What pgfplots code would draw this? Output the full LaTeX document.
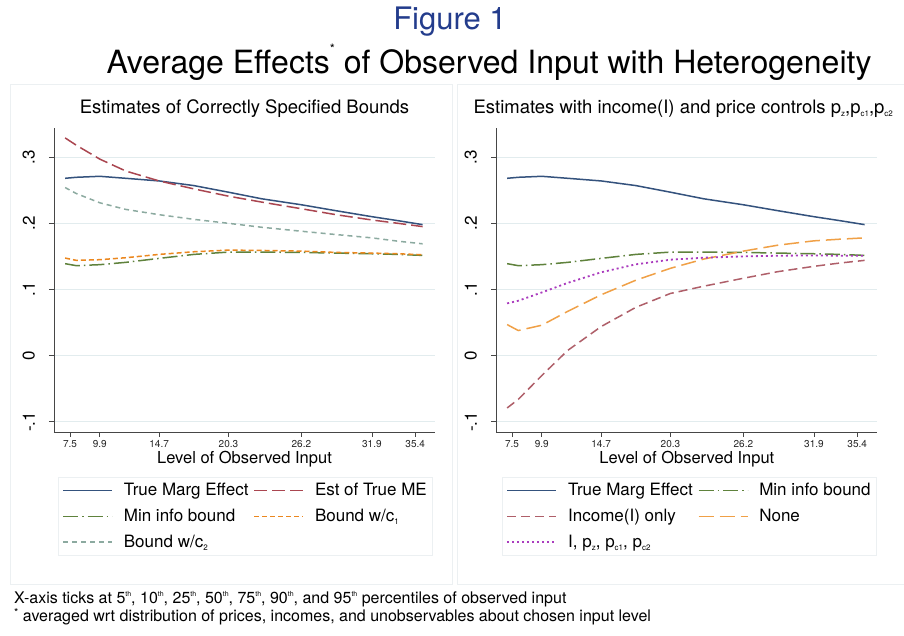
\documentclass[border=0pt]{standalone}
\usepackage{fontspec}
\setmainfont{TeX Gyre Heros}
\usepackage{pgfplots}
\pgfplotsset{compat=1.18}
\definecolor{navyc}{RGB}{52,82,125}
\definecolor{maroonc}{RGB}{170,70,80}
\definecolor{greenc}{RGB}{95,130,60}
\definecolor{orangec}{RGB}{235,135,30}
\definecolor{tealc}{RGB}{140,170,160}
\definecolor{incomec}{RGB}{175,95,105}
\definecolor{nonec}{RGB}{240,160,70}
\definecolor{purplec}{RGB}{170,60,190}
\definecolor{gridc}{RGB}{226,236,238}
\definecolor{axc}{RGB}{70,70,70}
\definecolor{figblue}{RGB}{35,60,140}
\definecolor{framec}{RGB}{236,240,242}
\newcommand{\sub}[1]{\raisebox{-0.3ex}{\fontsize{8}{8}\selectfont #1}}
\newcommand{\sps}[1]{\raisebox{0.85ex}{\fontsize{7}{7}\selectfont #1}}
\pgfplotsset{stbase/.style={
  scale only axis, width=381pt, height=304pt,
  xmin=6.2, xmax=37.0, ymin=-0.1153, ymax=0.344,
  axis x line*=bottom, axis y line*=left,
  axis line style={axc, line width=0.9pt, -},
  xtick={7.5,9.9,14.7,20.3,26.2,31.9,35.4},
  xticklabels={7.5,9.9,14.7,20.3,26.2,31.9,35.4},
  ytick={-0.1,0,0.1,0.2,0.3},
  yticklabels={-.1,0,.1,.2,.3},
  tick align=outside, major tick length=5pt,
  tick style={axc, line width=0.8pt},
  ymajorgrids, grid style={gridc, line width=1pt},
  xticklabel style={font=\fontsize{10}{12}\selectfont, text=black!85},
  yticklabel style={font=\fontsize{17}{20}\selectfont, rotate=90, anchor=south, inner sep=0pt},
  yticklabel shift=14pt,
  title style={font=\fontsize{18.5}{22}\selectfont},
  xlabel style={font=\fontsize{16.5}{20}\selectfont},
  legend columns=2,
  legend cell align=left,
  legend style={draw=framec, line width=0.8pt, font=\fontsize{17}{19}\selectfont,
    inner xsep=4pt, inner ysep=4pt, row sep=8pt,
    /tikz/every odd column/.append style={column sep=9pt},
    /tikz/every even column/.append style={column sep=3pt}},
  legend image code/.code={\draw[#1] (0pt,0pt) -- (49pt,0pt);},
}}
\begin{document}
\begin{tikzpicture}[x=1pt,y=1pt]
\useasboundingbox (0,0) rectangle (904,636);
\fill[white] (0,0) rectangle (904,636);
% panel frames
\draw[framec, line width=1pt] (10,51) rectangle (452,551);
\draw[framec, line width=1pt] (457,51) rectangle (910,551);
% titles
\node[anchor=base, text=figblue, font=\fontsize{31}{36}\selectfont] at (450,606) {Figure 1};
\node[anchor=base, font=\fontsize{32}{36}\selectfont] at (489,562) {Average Effects\raisebox{1.2ex}{\fontsize{13}{13}\selectfont *} of Observed Input with Heterogeneity};
% left panel
\begin{axis}[stbase, at={(54pt,204pt)}, anchor=south west,
  title={Estimates of Correctly Specified Bounds},
  title style={at={(0.5,1.028)}, anchor=base},
  xlabel={Level of Observed Input},
  xlabel style={at={(0.5,-0.105)}, anchor=base},
  legend style={at={(0.0105,-0.148)}, anchor=north west}]
\addplot[navyc, line width=1.5pt] coordinates {(7.1,0.268) (8,0.2695) (9.9,0.271) (12,0.268) (14.7,0.264) (17.5,0.257) (20.3,0.247) (23,0.237) (26.2,0.228) (29,0.219) (31.9,0.210) (34,0.204) (36,0.198)};
\addlegendentry{True Marg Effect}
\addplot[maroonc, line width=1.5pt, dash pattern=on 13pt off 5pt] coordinates {(7.1,0.329) (8,0.318) (9.9,0.297) (12,0.279) (14.7,0.264) (17.5,0.252) (20.3,0.241) (23,0.232) (26.2,0.222) (29,0.213) (31.9,0.205) (34,0.200) (36,0.195)};
\addlegendentry{Est of True ME}
\addplot[greenc, line width=1.5pt, dash pattern=on 15pt off 4pt on 1.5pt off 4pt] coordinates {(7.1,0.139) (8,0.136) (9.9,0.1375) (12,0.141) (14.7,0.147) (17.5,0.153) (20.3,0.1565) (23,0.1565) (26.2,0.156) (29,0.155) (31.9,0.154) (34,0.153) (36,0.1515)};
\addlegendentry{Min info bound}
\addplot[orangec, line width=1.5pt, dash pattern=on 5pt off 3pt] coordinates {(7.1,0.1475) (8,0.144) (9.9,0.145) (12,0.148) (14.7,0.153) (17.5,0.157) (20.3,0.1595) (23,0.159) (26.2,0.158) (29,0.156) (31.9,0.155) (34,0.154) (36,0.1525)};
\addlegendentry{Bound w/c\sub{1}}
\addplot[tealc, line width=1.5pt, dash pattern=on 5pt off 4pt] coordinates {(7.1,0.254) (8,0.245) (9.9,0.231) (12,0.221) (14.7,0.213) (17.5,0.206) (20.3,0.200) (23,0.194) (26.2,0.188) (29,0.183) (31.9,0.178) (34,0.173) (36,0.169)};
\addlegendentry{Bound w/c\sub{2}}
\end{axis}
% right panel
\begin{axis}[stbase, at={(496pt,204pt)}, anchor=south west,
  title={Estimates with income(I) and price controls p\sub{z},p\sub{c1},p\sub{c2}},
  title style={at={(-0.068,1.028)}, anchor=base west},
  xlabel={Level of Observed Input},
  xlabel style={at={(0.501,-0.105)}, anchor=base},
  legend style={at={(0.0157,-0.148)}, anchor=north west}]
\addplot[navyc, line width=1.5pt] coordinates {(7.1,0.268) (8,0.2695) (9.9,0.271) (12,0.268) (14.7,0.264) (17.5,0.257) (20.3,0.247) (23,0.237) (26.2,0.228) (29,0.219) (31.9,0.210) (34,0.204) (36,0.198)};
\addlegendentry{True Marg Effect}
\addplot[greenc, line width=1.5pt, dash pattern=on 15pt off 4pt on 1.5pt off 4pt] coordinates {(7.1,0.139) (8,0.136) (9.9,0.1375) (12,0.141) (14.7,0.147) (17.5,0.153) (20.3,0.1565) (23,0.1565) (26.2,0.156) (29,0.155) (31.9,0.154) (34,0.153) (36,0.1515)};
\addlegendentry{Min info bound}
\addplot[incomec, line width=1.5pt, dash pattern=on 9pt off 5pt] coordinates {(7.1,-0.079) (8,-0.066) (9.9,-0.030) (12,0.008) (14.7,0.044) (17.5,0.073) (20.3,0.094) (23,0.105) (26.2,0.117) (29,0.127) (31.9,0.135) (34,0.140) (36,0.144)};
\addlegendentry{Income(I) only}
\addplot[nonec, line width=1.5pt, dash pattern=on 15pt off 6pt] coordinates {(7.1,0.047) (8,0.038) (9.9,0.046) (12,0.067) (14.7,0.092) (17.5,0.114) (20.3,0.132) (23,0.146) (26.2,0.158) (29,0.167) (31.9,0.1735) (34,0.176) (36,0.178)};
\addlegendentry{None}
\addplot[purplec, line width=1.8pt, dash pattern=on 2pt off 3pt] coordinates {(7.1,0.079) (8,0.083) (9.9,0.0955) (12,0.110) (14.7,0.126) (17.5,0.138) (20.3,0.145) (23,0.148) (26.2,0.150) (29,0.151) (31.9,0.1515) (34,0.151) (36,0.151)};
\addlegendentry{I, p\sub{z}, p\sub{c1}, p\sub{c2}}
\end{axis}
% caption
\node[anchor=base west, font=\fontsize{16}{19}\selectfont, inner sep=0pt] at (14,32) {X-axis ticks at 5\sps{th}, 10\sps{th}, 25\sps{th}, 50\sps{th}, 75\sps{th}, 90\sps{th}, and 95\sps{th} percentiles of observed input};
\node[anchor=base west, font=\fontsize{16}{19}\selectfont, inner sep=0pt] at (14,14) {\raisebox{0.6ex}{\fontsize{11}{11}\selectfont *} averaged wrt distribution of prices, incomes, and unobservables about chosen input level};
\end{tikzpicture}
\end{document}
